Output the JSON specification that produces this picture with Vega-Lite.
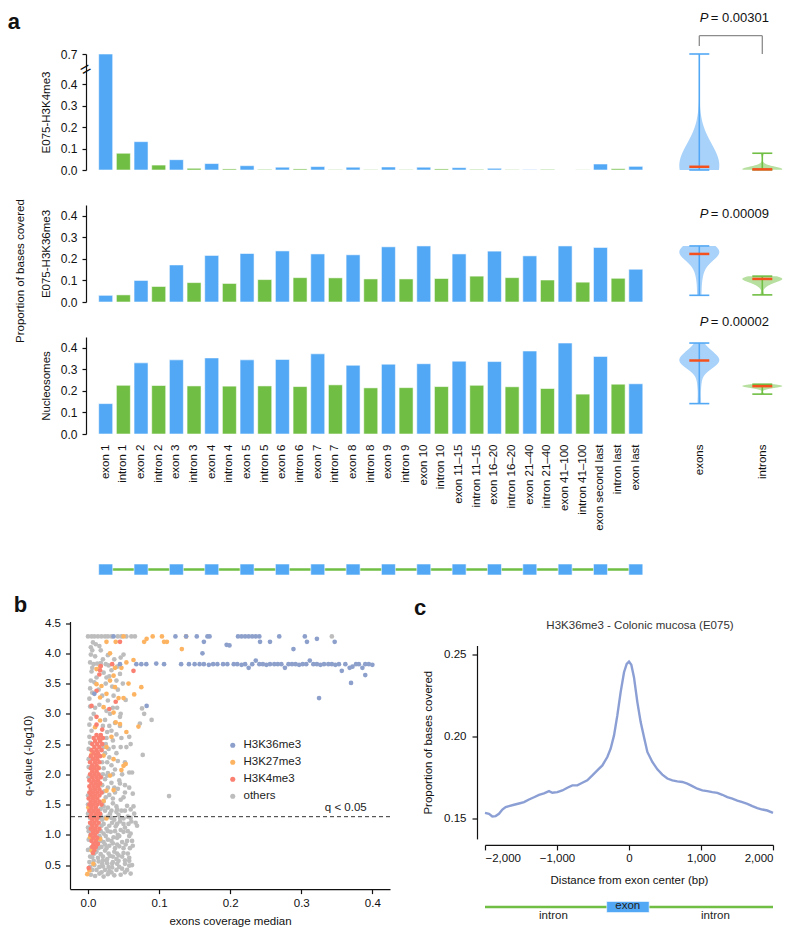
{
  "$schema": "https://vega.github.io/schema/vega-lite/v6.json",
  "background": "white",
  "padding": {"left": 7, "top": 10, "right": 0, "bottom": 0},
  "resolve": {"scale": {"color": "independent", "opacity": "independent"}},
  "datasets": {
    "bars": [
      {"lab": "exon 1", "type": "exon", "k4": 0.7, "k36": 0.031, "nuc": 0.141},
      {"lab": "intron 1", "type": "intron", "k4": 0.078, "k36": 0.033, "nuc": 0.226},
      {"lab": "exon 2", "type": "exon", "k4": 0.132, "k36": 0.1, "nuc": 0.33},
      {"lab": "intron 2", "type": "intron", "k4": 0.023, "k36": 0.072, "nuc": 0.225},
      {"lab": "exon 3", "type": "exon", "k4": 0.048, "k36": 0.172, "nuc": 0.344},
      {"lab": "intron 3", "type": "intron", "k4": 0.008, "k36": 0.09, "nuc": 0.223},
      {"lab": "exon 4", "type": "exon", "k4": 0.03, "k36": 0.216, "nuc": 0.353},
      {"lab": "intron 4", "type": "intron", "k4": 0.005, "k36": 0.086, "nuc": 0.222},
      {"lab": "exon 5", "type": "exon", "k4": 0.02, "k36": 0.225, "nuc": 0.344},
      {"lab": "intron 5", "type": "intron", "k4": 0.003, "k36": 0.104, "nuc": 0.223},
      {"lab": "exon 6", "type": "exon", "k4": 0.013, "k36": 0.237, "nuc": 0.346},
      {"lab": "intron 6", "type": "intron", "k4": 0.005, "k36": 0.113, "nuc": 0.22},
      {"lab": "exon 7", "type": "exon", "k4": 0.016, "k36": 0.223, "nuc": 0.372},
      {"lab": "intron 7", "type": "intron", "k4": 0.002, "k36": 0.112, "nuc": 0.228},
      {"lab": "exon 8", "type": "exon", "k4": 0.013, "k36": 0.219, "nuc": 0.319},
      {"lab": "intron 8", "type": "intron", "k4": 0.002, "k36": 0.107, "nuc": 0.214},
      {"lab": "exon 9", "type": "exon", "k4": 0.014, "k36": 0.256, "nuc": 0.324},
      {"lab": "intron 9", "type": "intron", "k4": 0.002, "k36": 0.107, "nuc": 0.215},
      {"lab": "exon 10", "type": "exon", "k4": 0.013, "k36": 0.26, "nuc": 0.326},
      {"lab": "intron 10", "type": "intron", "k4": 0.005, "k36": 0.109, "nuc": 0.22},
      {"lab": "exon 11–15", "type": "exon", "k4": 0.011, "k36": 0.223, "nuc": 0.338},
      {"lab": "intron 11–15", "type": "intron", "k4": 0.003, "k36": 0.12, "nuc": 0.226},
      {"lab": "exon 16–20", "type": "exon", "k4": 0.008, "k36": 0.236, "nuc": 0.336},
      {"lab": "intron 16–20", "type": "intron", "k4": 0.002, "k36": 0.113, "nuc": 0.219},
      {"lab": "exon 21–40", "type": "exon", "k4": 0.002, "k36": 0.214, "nuc": 0.385},
      {"lab": "intron 21–40", "type": "intron", "k4": 0.003, "k36": 0.102, "nuc": 0.211},
      {"lab": "exon 41–100", "type": "exon", "k4": 0.0, "k36": 0.26, "nuc": 0.422},
      {"lab": "intron 41–100", "type": "intron", "k4": 0.001, "k36": 0.092, "nuc": 0.185},
      {"lab": "exon second last", "type": "exon", "k4": 0.028, "k36": 0.253, "nuc": 0.36},
      {"lab": "intron last", "type": "intron", "k4": 0.006, "k36": 0.11, "nuc": 0.231},
      {"lab": "exon last", "type": "exon", "k4": 0.017, "k36": 0.152, "nuc": 0.233}
    ],
    "others": [
      {"x":0.0,"q":4.28},{"x":0.005,"q":4.28},{"x":0.009,"q":4.28},{"x":0.014,"q":4.28},{"x":0.019,"q":4.28},{"x":0.024,"q":4.28},{"x":0.028,"q":4.28},{"x":0.033,"q":4.28},{"x":0.042,"q":4.28},{"x":0.047,"q":4.28},{"x":0.054,"q":4.28},{"x":0.061,"q":4.28},{"x":0.066,"q":4.28},{"x":0.343,"q":4.28},
      {"x":0.007,"q":4.18},{"x":0.011,"q":4.15},{"x":0.016,"q":4.12},{"x":0.004,"q":4.1},
      {"x":0.004,"q":3.98},{"x":0.01,"q":3.95},{"x":0.021,"q":3.9},{"x":0.028,"q":3.97},{"x":0.046,"q":3.93},{"x":0.05,"q":3.98},
      {"x":0.003,"q":3.85},{"x":0.008,"q":3.82},{"x":0.013,"q":3.83},{"x":0.018,"q":3.84},{"x":0.025,"q":3.82},{"x":0.029,"q":3.8},{"x":0.041,"q":3.78},{"x":0.006,"q":3.76},
      {"x":0.005,"q":3.7},{"x":0.022,"q":3.68},{"x":0.03,"q":3.62},{"x":0.045,"q":3.66},
      {"x":0.004,"q":3.55},{"x":0.009,"q":3.52},{"x":0.025,"q":3.5},{"x":0.034,"q":3.45},{"x":0.003,"q":3.42},{"x":0.049,"q":3.5},
      {"x":0.006,"q":3.35},{"x":0.02,"q":3.3},{"x":0.028,"q":3.22},{"x":0.053,"q":3.23},{"x":0.002,"q":3.25},
      {"x":0.003,"q":3.12},{"x":0.016,"q":3.15},{"x":0.026,"q":3.05},{"x":0.035,"q":3.1},{"x":0.076,"q":3.09},{"x":0.079,"q":3.0},{"x":0.046,"q":3.0},{"x":0.008,"q":3.0},
      {"x":0.004,"q":2.92},{"x":0.024,"q":2.9},{"x":0.045,"q":2.95},{"x":0.0895,"q":2.9},{"x":0.002,"q":2.82},{"x":0.03,"q":2.8},{"x":0.073,"q":2.84},
      {"x":0.005,"q":2.72},{"x":0.027,"q":2.7},{"x":0.04,"q":2.66},{"x":0.058,"q":2.62},{"x":0.002,"q":2.62},
      {"x":0.003,"q":2.52},{"x":0.025,"q":2.5},{"x":0.035,"q":2.56},{"x":0.046,"q":2.45},{"x":0.001,"q":2.42},{"x":0.06,"q":2.5},
      {"x":0.024,"q":2.35},{"x":0.03,"q":2.28},{"x":0.001,"q":2.25},{"x":0.077,"q":2.32},{"x":0.042,"q":2.22},
      {"x":0.001,"q":2.12},{"x":0.022,"q":2.1},{"x":0.028,"q":2.02},{"x":0.038,"q":2.08},{"x":0.058,"q":2.03},{"x":0.062,"q":2.03},
      {"x":0.001,"q":1.95},{"x":0.024,"q":1.92},{"x":0.033,"q":1.86},{"x":0.044,"q":1.9},{"x":0.052,"q":1.82},{"x":0.02,"q":1.82},
      {"x":0.023,"q":1.72},{"x":0.03,"q":1.66},{"x":0.042,"q":1.76},{"x":0.05,"q":1.62},{"x":0.063,"q":1.68},{"x":0.114,"q":1.64},{"x":0.0,"q":1.65},
      {"x":0.022,"q":1.55},{"x":0.028,"q":1.45},{"x":0.035,"q":1.52},{"x":0.046,"q":1.58},{"x":0.055,"q":1.48},{"x":0.06,"q":1.42},{"x":0.041,"q":1.42},{"x":0.0,"q":1.5},{"x":0.018,"q":1.43},
      {"x":0.0,"q":1.35},{"x":0.018,"q":1.32},{"x":0.024,"q":1.28},{"x":0.031,"q":1.35},{"x":0.037,"q":1.25},{"x":0.043,"q":1.33},{"x":0.05,"q":1.27},{"x":0.056,"q":1.3},{"x":0.061,"q":1.22},{"x":0.067,"q":1.2},{"x":0.034,"q":1.2},{"x":0.045,"q":1.22},
      {"x":0.0,"q":1.12},{"x":0.019,"q":1.15},{"x":0.026,"q":1.1},{"x":0.032,"q":1.05},{"x":0.039,"q":1.14},{"x":0.046,"q":1.08},{"x":0.052,"q":1.12},{"x":0.06,"q":1.02},{"x":0.022,"q":1.02},{"x":0.042,"q":1.0},{"x":0.069,"q":1.15},
      {"x":0.001,"q":0.92},{"x":0.017,"q":0.95},{"x":0.022,"q":0.88},{"x":0.028,"q":0.92},{"x":0.035,"q":0.86},{"x":0.041,"q":0.95},{"x":0.048,"q":0.88},{"x":0.055,"q":0.9},{"x":0.063,"q":0.82},{"x":0.03,"q":0.82},{"x":0.019,"q":0.8},{"x":0.044,"q":0.81},
      {"x":0.0,"q":0.75},{"x":0.012,"q":0.72},{"x":0.018,"q":0.68},{"x":0.024,"q":0.74},{"x":0.031,"q":0.65},{"x":0.037,"q":0.72},{"x":0.043,"q":0.66},{"x":0.05,"q":0.7},{"x":0.058,"q":0.62},{"x":0.006,"q":0.63},{"x":0.027,"q":0.6},{"x":0.04,"q":0.6},
      {"x":0.002,"q":0.55},{"x":0.009,"q":0.5},{"x":0.015,"q":0.56},{"x":0.021,"q":0.48},{"x":0.027,"q":0.53},{"x":0.034,"q":0.46},{"x":0.041,"q":0.52},{"x":0.048,"q":0.44},{"x":0.058,"q":0.49},{"x":0.062,"q":0.5},{"x":0.012,"q":0.42},{"x":0.03,"q":0.4},
      {"x":0.004,"q":0.34},{"x":0.01,"q":0.32},{"x":0.016,"q":0.36},{"x":0.022,"q":0.31},{"x":0.028,"q":0.35},{"x":0.037,"q":0.33},{"x":0.046,"q":0.34},{"x":0.06,"q":0.36},
      {"x":0.014,"q":0.62},{"x":0.021,"q":0.58},{"x":0.035,"q":0.55},{"x":0.052,"q":0.58},{"x":0.008,"q":0.84},{"x":0.013,"q":0.88},{"x":0.025,"q":0.98},{"x":0.036,"q":0.96},{"x":0.05,"q":1.05},{"x":0.03,"q":1.15},{"x":0.057,"q":1.18},{"x":0.02,"q":1.25},{"x":0.028,"q":1.3},{"x":0.04,"q":1.38},{"x":0.052,"q":1.4},{"x":0.065,"q":1.35},{"x":0.035,"q":1.6},{"x":0.025,"q":1.62},{"x":0.038,"q":1.7},{"x":0.045,"q":1.85},{"x":0.027,"q":1.98},{"x":0.033,"q":2.15},{"x":0.04,"q":2.35},{"x":0.029,"q":2.42},{"x":0.033,"q":2.72},{"x":0.038,"q":2.85},{"x":0.031,"q":3.0},{"x":0.036,"q":3.3},{"x":0.04,"q":3.55},{"x":0.033,"q":3.72},{"x":0.037,"q":3.9},
      {"x":0.019,"q":0.38},{"x":0.033,"q":0.38},{"x":0.052,"q":0.38},{"x":0.006,"q":0.42},{"x":0.024,"q":0.42},{"x":0.04,"q":0.42},{"x":0.055,"q":0.42},{"x":0.003,"q":0.47},{"x":0.016,"q":0.47},{"x":0.029,"q":0.47},{"x":0.044,"q":0.47},
      {"x":0.02,"q":0.52},{"x":0.034,"q":0.52},{"x":0.052,"q":0.52},{"x":0.008,"q":0.57},{"x":0.026,"q":0.57},{"x":0.043,"q":0.57},{"x":0.058,"q":0.57},{"x":0.003,"q":0.64},{"x":0.021,"q":0.64},{"x":0.035,"q":0.64},{"x":0.048,"q":0.64},
      {"x":0.009,"q":0.69},{"x":0.029,"q":0.69},{"x":0.041,"q":0.69},{"x":0.056,"q":0.69},{"x":0.004,"q":0.78},{"x":0.015,"q":0.78},{"x":0.026,"q":0.78},{"x":0.038,"q":0.78},{"x":0.05,"q":0.78},{"x":0.059,"q":0.78},
      {"x":0.024,"q":0.84},{"x":0.041,"q":0.84},{"x":0.053,"q":0.84},{"x":0.018,"q":0.9},{"x":0.033,"q":0.9},{"x":0.062,"q":0.9},{"x":0.003,"q":0.98},{"x":0.016,"q":0.98},{"x":0.044,"q":0.98},{"x":0.058,"q":0.98},
      {"x":0.001,"q":1.06},{"x":0.018,"q":1.06},{"x":0.028,"q":1.06},{"x":0.038,"q":1.06},{"x":0.056,"q":1.06},{"x":0.004,"q":1.18},{"x":0.022,"q":1.18},{"x":0.041,"q":1.18},{"x":0.05,"q":1.18},
      {"x":0.003,"q":1.28},{"x":0.016,"q":1.28},{"x":0.033,"q":1.28},{"x":0.045,"q":1.28},{"x":0.06,"q":1.28},{"x":0.004,"q":1.4},{"x":0.024,"q":1.4},{"x":0.033,"q":1.4},{"x":0.047,"q":1.4},
      {"x":0.022,"q":1.47},{"x":0.04,"q":1.47},{"x":0.064,"q":1.47},{"x":0.02,"q":1.7},{"x":0.052,"q":1.7},{"x":0.028,"q":1.78},{"x":0.037,"q":1.78},{"x":0.058,"q":1.78},
      {"x":0.021,"q":2.0},{"x":0.035,"q":2.0},{"x":0.048,"q":2.0},{"x":0.02,"q":2.2},{"x":0.027,"q":2.2},{"x":0.052,"q":2.2},{"x":0.022,"q":2.45},{"x":0.036,"q":2.45},{"x":0.054,"q":2.45},
      {"x":0.026,"q":2.6},{"x":0.047,"q":2.6},{"x":0.021,"q":2.8},{"x":0.045,"q":2.8},{"x":0.01,"q":3.1},{"x":0.041,"q":3.1},{"x":0.015,"q":3.4},{"x":0.042,"q":3.4},{"x":0.012,"q":3.6},{"x":0.026,"q":3.6},{"x":0.006,"q":4.05},{"x":0.018,"q":4.05}
    ],
    "k27": [
      {"x":0.05,"q":4.28},{"x":0.079,"q":4.19},{"x":0.0825,"q":4.24},{"x":0.091,"q":4.28},{"x":0.104,"q":4.28},{"x":0.107,"q":4.19},{"x":0.111,"q":4.19},{"x":0.138,"q":4.28},{"x":0.132,"q":4.07},{"x":0.026,"q":4.19},{"x":0.039,"q":4.19},{"x":0.031,"q":4.0},
      {"x":0.064,"q":3.89},{"x":0.054,"q":3.85},{"x":0.038,"q":3.76},{"x":0.047,"q":3.76},{"x":0.017,"q":3.78},{"x":0.012,"q":3.74},{"x":0.036,"q":3.63},{"x":0.057,"q":3.5},{"x":0.012,"q":3.49},{"x":0.019,"q":3.46},{"x":0.075,"q":3.44},{"x":0.031,"q":3.55},
      {"x":0.065,"q":3.32},{"x":0.043,"q":3.26},{"x":0.05,"q":3.26},{"x":0.017,"q":3.27},{"x":0.026,"q":3.33},{"x":0.038,"q":3.44},{"x":0.022,"q":3.11},{"x":0.036,"q":3.02},{"x":0.039,"q":2.86},{"x":0.045,"q":2.83},{"x":0.071,"q":2.79},{"x":0.054,"q":2.7},
      {"x":0.017,"q":2.89},{"x":0.01,"q":2.78},{"x":0.033,"q":2.62},{"x":0.017,"q":2.56},{"x":0.026,"q":2.45},{"x":0.022,"q":2.31},{"x":0.036,"q":2.25},{"x":0.05,"q":2.14},{"x":0.053,"q":2.17},{"x":0.047,"q":2.07},{"x":0.005,"q":2.33},{"x":0.015,"q":2.11},
      {"x":0.031,"q":1.98},{"x":0.017,"q":1.84},{"x":0.026,"q":1.73},{"x":0.0075,"q":1.62},{"x":0.022,"q":1.56},{"x":0.0005,"q":1.45},{"x":0.012,"q":1.34},{"x":0.026,"q":1.27},{"x":0.01,"q":1.1},{"x":0.003,"q":0.96},{"x":0.005,"q":0.74},{"x":0.0075,"q":0.52},
      {"x":0.002,"q":0.41},{"x":-0.001,"q":0.35},{"x":0.017,"q":0.93},{"x":0.036,"q":1.74}
    ],
    "k4": [
      {"x":0.045,"q":4.19},{"x":0.064,"q":3.71},{"x":0.034,"q":3.82},{"x":0.017,"q":3.72},{"x":0.018,"q":3.79},{"x":0.016,"q":3.65},{"x":0.012,"q":3.38},{"x":0.005,"q":3.13},{"x":0.012,"q":2.95},{"x":0.039,"q":3.2},{"x":0.03,"q":3.08},{"x":0.02,"q":2.74},{"x":0.012,"q":2.82},
      {"x":0.012,"q":2.65},{"x":0.018,"q":2.65},{"x":0.008,"q":2.6},{"x":0.015,"q":2.6},{"x":0.021,"q":2.6},{"x":0.01,"q":2.55},{"x":0.017,"q":2.55},{"x":0.006,"q":2.5},{"x":0.013,"q":2.5},{"x":0.02,"q":2.5},
      {"x":0.009,"q":2.45},{"x":0.016,"q":2.45},{"x":0.005,"q":2.4},{"x":0.012,"q":2.4},{"x":0.019,"q":2.4},{"x":0.008,"q":2.35},{"x":0.014,"q":2.35},{"x":0.004,"q":2.3},{"x":0.011,"q":2.3},{"x":0.017,"q":2.3},
      {"x":0.007,"q":2.25},{"x":0.013,"q":2.25},{"x":0.003,"q":2.2},{"x":0.01,"q":2.2},{"x":0.016,"q":2.2},{"x":0.006,"q":2.15},{"x":0.012,"q":2.15},{"x":0.004,"q":2.1},{"x":0.009,"q":2.1},{"x":0.015,"q":2.1},
      {"x":0.006,"q":2.05},{"x":0.012,"q":2.05},{"x":0.003,"q":2.0},{"x":0.009,"q":2.0},{"x":0.015,"q":2.0},{"x":0.006,"q":1.95},{"x":0.012,"q":1.95},{"x":0.018,"q":1.95},{"x":0.002,"q":1.9},{"x":0.008,"q":1.9},{"x":0.014,"q":1.9},
      {"x":0.005,"q":1.85},{"x":0.011,"q":1.85},{"x":0.017,"q":1.85},{"x":0.002,"q":1.8},{"x":0.008,"q":1.8},{"x":0.014,"q":1.8},{"x":0.004,"q":1.75},{"x":0.01,"q":1.75},{"x":0.016,"q":1.75},
      {"x":0.002,"q":1.7},{"x":0.007,"q":1.7},{"x":0.013,"q":1.7},{"x":0.019,"q":1.7},{"x":0.004,"q":1.65},{"x":0.01,"q":1.65},{"x":0.016,"q":1.65},{"x":0.001,"q":1.6},{"x":0.007,"q":1.6},{"x":0.013,"q":1.6},
      {"x":0.004,"q":1.55},{"x":0.01,"q":1.55},{"x":0.016,"q":1.55},{"x":0.002,"q":1.5},{"x":0.007,"q":1.5},{"x":0.013,"q":1.5},{"x":0.019,"q":1.5},{"x":0.005,"q":1.45},{"x":0.011,"q":1.45},
      {"x":0.002,"q":1.4},{"x":0.008,"q":1.4},{"x":0.014,"q":1.4},{"x":0.005,"q":1.35},{"x":0.011,"q":1.35},{"x":0.017,"q":1.35},{"x":0.003,"q":1.3},{"x":0.009,"q":1.3},{"x":0.015,"q":1.3},
      {"x":0.006,"q":1.25},{"x":0.012,"q":1.25},{"x":0.003,"q":1.2},{"x":0.009,"q":1.2},{"x":0.015,"q":1.2},{"x":0.006,"q":1.15},{"x":0.012,"q":1.15},{"x":0.004,"q":1.1},{"x":0.01,"q":1.1},{"x":0.016,"q":1.1},
      {"x":0.007,"q":1.05},{"x":0.013,"q":1.05},{"x":0.004,"q":1.0},{"x":0.01,"q":1.0},{"x":0.007,"q":0.95},{"x":0.013,"q":0.95},{"x":0.005,"q":0.9},{"x":0.011,"q":0.9},{"x":0.008,"q":0.85},{"x":0.014,"q":0.85},
      {"x":0.006,"q":0.8},{"x":0.011,"q":0.8},{"x":0.009,"q":0.75},{"x":0.007,"q":0.7},{"x":0.001,"q":0.45}
    ],
    "k36": [
      {"x":0.036,"q":4.28},{"x":0.123,"q":4.28},{"x":0.138,"q":4.28},{"x":0.153,"q":4.28},{"x":0.168,"q":4.28},{"x":0.171,"q":4.28},{"x":0.211,"q":4.28},{"x":0.216,"q":4.28},{"x":0.221,"q":4.28},{"x":0.226,"q":4.28},{"x":0.231,"q":4.28},{"x":0.236,"q":4.28},{"x":0.241,"q":4.28},{"x":0.269,"q":4.28},{"x":0.305,"q":4.28},
      {"x":0.322,"q":4.24},{"x":0.163,"q":4.19},{"x":0.242,"q":4.19},{"x":0.256,"q":4.19},{"x":0.308,"q":4.19},{"x":0.347,"q":4.19},{"x":0.195,"q":4.14},{"x":0.199,"q":4.13},{"x":0.161,"q":4.0},{"x":0.289,"q":4.07},
      {"x":0.045,"q":3.82},{"x":0.068,"q":3.82},{"x":0.075,"q":3.82},{"x":0.082,"q":3.82},{"x":0.096,"q":3.83},{"x":0.107,"q":3.82},{"x":0.131,"q":3.82},{"x":0.142,"q":3.82},{"x":0.15,"q":3.82},{"x":0.157,"q":3.82},{"x":0.163,"q":3.82},{"x":0.17,"q":3.81},{"x":0.176,"q":3.82},{"x":0.182,"q":3.82},{"x":0.19,"q":3.82},{"x":0.196,"q":3.82},{"x":0.205,"q":3.82},{"x":0.21,"q":3.82},{"x":0.216,"q":3.81},{"x":0.221,"q":3.82},{"x":0.226,"q":3.76},{"x":0.231,"q":3.82},{"x":0.236,"q":3.88},{"x":0.241,"q":3.82},{"x":0.246,"q":3.82},{"x":0.251,"q":3.81},{"x":0.256,"q":3.82},{"x":0.262,"q":3.82},{"x":0.267,"q":3.82},{"x":0.272,"q":3.82},{"x":0.277,"q":3.76},{"x":0.282,"q":3.82},{"x":0.287,"q":3.82},{"x":0.292,"q":3.82},{"x":0.297,"q":3.81},{"x":0.302,"q":3.82},{"x":0.307,"q":3.82},{"x":0.312,"q":3.88},{"x":0.317,"q":3.82},{"x":0.322,"q":3.82},{"x":0.327,"q":3.81},{"x":0.332,"q":3.82},{"x":0.338,"q":3.82},{"x":0.343,"q":3.82},{"x":0.348,"q":3.81},{"x":0.353,"q":3.82},{"x":0.357,"q":3.71},{"x":0.362,"q":3.82},{"x":0.368,"q":3.76},{"x":0.372,"q":3.78},{"x":0.377,"q":3.82},{"x":0.381,"q":3.82},{"x":0.386,"q":3.76},{"x":0.39,"q":3.82},{"x":0.395,"q":3.82},{"x":0.4,"q":3.81},
      {"x":0.37,"q":3.51},{"x":0.39,"q":3.64},{"x":0.325,"q":3.26},{"x":0.009,"q":3.33},{"x":0.0825,"q":3.13}
    ],
    "profile": [
      {"d":-2000,"p":0.1537},{"d":-1944,"p":0.1531},{"d":-1898,"p":0.1515},{"d":-1852,"p":0.1517},{"d":-1806,"p":0.1531},{"d":-1759,"p":0.1557},{"d":-1713,"p":0.1572},{"d":-1667,"p":0.1578},{"d":-1597,"p":0.1586},{"d":-1528,"p":0.1594},{"d":-1458,"p":0.1602},{"d":-1389,"p":0.1618},{"d":-1319,"p":0.1632},{"d":-1250,"p":0.1646},{"d":-1181,"p":0.1655},{"d":-1111,"p":0.1669},{"d":-1065,"p":0.1659},{"d":-995,"p":0.1663},{"d":-926,"p":0.1673},{"d":-856,"p":0.169},{"d":-787,"p":0.1704},{"d":-718,"p":0.1704},{"d":-648,"p":0.172},{"d":-579,"p":0.1735},{"d":-509,"p":0.1765},{"d":-440,"p":0.1796},{"d":-370,"p":0.1826},{"d":-301,"p":0.1877},{"d":-255,"p":0.1928},{"d":-208,"p":0.2009},{"d":-162,"p":0.2131},{"d":-116,"p":0.2273},{"d":-69,"p":0.2394},{"d":-32,"p":0.2445},{"d":0,"p":0.2459},{"d":32,"p":0.2439},{"d":69,"p":0.2364},{"d":116,"p":0.2212},{"d":162,"p":0.209},{"d":208,"p":0.1999},{"d":255,"p":0.1908},{"d":324,"p":0.1847},{"d":394,"p":0.1802},{"d":463,"p":0.177},{"d":532,"p":0.1746},{"d":602,"p":0.1735},{"d":671,"p":0.1729},{"d":741,"p":0.1725},{"d":810,"p":0.1715},{"d":880,"p":0.17},{"d":949,"p":0.1684},{"d":1019,"p":0.1674},{"d":1088,"p":0.1669},{"d":1157,"p":0.1663},{"d":1227,"p":0.1659},{"d":1296,"p":0.1647},{"d":1366,"p":0.1633},{"d":1435,"p":0.1623},{"d":1505,"p":0.1612},{"d":1574,"p":0.1602},{"d":1644,"p":0.1592},{"d":1713,"p":0.1578},{"d":1782,"p":0.1566},{"d":1852,"p":0.1557},{"d":1921,"p":0.1551},{"d":2000,"p":0.1537}
    ]
  },
  "vconcat": [
    {
      "title": {"text": "a", "anchor": "start", "frame": "bounds", "fontSize": 22, "fontWeight": "bold", "offset": 0, "dx": -7, "dy": 22},
      "spacing": 32,
      "vconcat": [
        {
          "title": {"text": "Proportion of bases covered", "orient": "left", "anchor": "middle", "frame": "bounds", "fontSize": 11.5, "fontWeight": "normal", "offset": 14},
          "spacing": 35,
          "bounds": "flush",
          "vconcat": [
            {
              "width": 716, "height": 116,
              "data": {"name": "bars"},
              "resolve": {"scale": {"x": "independent", "y": "independent"}},
              "layer": [
                {
                  "mark": {"type": "bar", "stroke": "#ffffff", "strokeOpacity": 0.55, "strokeWidth": 1},
                  "encoding": {
                    "x": {"field": "lab", "type": "nominal", "sort": null, "axis": null, "scale": {"type": "band", "domain": ["exon 1","intron 1","exon 2","intron 2","exon 3","intron 3","exon 4","intron 4","exon 5","intron 5","exon 6","intron 6","exon 7","intron 7","exon 8","intron 8","exon 9","intron 9","exon 10","intron 10","exon 11–15","intron 11–15","exon 16–20","intron 16–20","exon 21–40","intron 21–40","exon 41–100","intron 41–100","exon second last","intron last","exon last"], "range": [28.7, 572.8], "paddingInner": 0.208, "paddingOuter": 0, "round": false}},
                    "y": {"field": "k4", "type": "quantitative", "scale": {"domain": [0, 0.54], "clamp": true, "nice": false, "zero": true}, "axis": {"values": [0, 0.1, 0.2, 0.3, 0.4, 0.54], "labelExpr": "datum.value > 0.5 ? '0.7' : format(datum.value, '.1f')", "title": "E075-H3K4me3", "offset": -16, "tickSize": 4, "labelPadding": 5, "titlePadding": 9, "labelFontSize": 12}},
                    "color": {"field": "type", "type": "nominal", "scale": {"domain": ["exon", "intron"], "range": ["#53A8F5", "#70BE43"]}, "legend": null}
                  }
                },
                {
                  "data": {"values": [{}]},
                  "mark": {"type": "text", "text": "=", "angle": -30, "fontSize": 18, "dx": -17.06, "dy": -9.85, "align": "center", "baseline": "middle", "color": "#111"},
                  "encoding": {
                    "x": {"datum": "exon 1", "type": "nominal", "axis": null, "scale": {"type": "band", "domain": ["exon 1","intron 1","exon 2","intron 2","exon 3","intron 3","exon 4","intron 4","exon 5","intron 5","exon 6","intron 6","exon 7","intron 7","exon 8","intron 8","exon 9","intron 9","exon 10","intron 10","exon 11–15","intron 11–15","exon 16–20","intron 16–20","exon 21–40","intron 21–40","exon 41–100","intron 41–100","exon second last","intron last","exon last"], "range": [28.7, 572.8], "paddingInner": 0.208, "paddingOuter": 0, "round": false}},
                    "y": {"datum": 0.465, "type": "quantitative", "axis": null, "scale": {"domain": [0, 0.54], "clamp": true, "nice": false, "zero": true}}
                  }
                },
                {
                  "transform": [{"filter": "datum.type === 'exon'"}, {"density": "k4", "bandwidth": 0.0986, "steps": 120, "as": ["v", "dens"]}],
                  "mark": {"type": "area", "orient": "horizontal", "color": "#A9D2FA"},
                  "encoding": {
                    "y": {"field": "v", "type": "quantitative", "axis": null, "scale": {"domain": [0, 0.54], "clamp": true, "nice": false, "zero": true}},
                    "x": {"field": "dens", "type": "quantitative", "stack": "center", "axis": null, "scale": {"range": [609.3, 649.3], "nice": false, "zero": true}}
                  }
                },
                {
                  "transform": [{"filter": "datum.type === 'intron'"}, {"density": "k4", "bandwidth": 0.0114, "steps": 120, "as": ["v", "dens"]}],
                  "mark": {"type": "area", "orient": "horizontal", "color": "#B7E0A0"},
                  "encoding": {
                    "y": {"field": "v", "type": "quantitative", "axis": null, "scale": {"domain": [0, 0.54], "clamp": true, "nice": false, "zero": true}},
                    "x": {"field": "dens", "type": "quantitative", "stack": "center", "axis": null, "scale": {"range": [672.3, 712.3], "nice": false, "zero": true}}
                  }
                },
                {
                  "layer": [
                    {
                      "mark": {"type": "rule", "strokeWidth": 1.6},
                      "encoding": {
                        "x": {"field": "type", "type": "nominal", "axis": null, "scale": {"type": "point", "domain": ["exon", "intron"], "range": [629.3, 692.3], "padding": 0}},
                        "y": {"aggregate": "min", "field": "k4", "type": "quantitative", "axis": null, "scale": {"domain": [0, 0.54], "clamp": true, "nice": false, "zero": true}},
                        "y2": {"aggregate": "max", "field": "k4"},
                        "color": {"field": "type", "type": "nominal", "legend": null}
                      }
                    },
                    {
                      "mark": {"type": "tick", "orient": "horizontal", "size": 20, "thickness": 1.6},
                      "encoding": {
                        "x": {"field": "type", "type": "nominal", "axis": null, "scale": {"type": "point", "domain": ["exon", "intron"], "range": [629.3, 692.3], "padding": 0}},
                        "y": {"aggregate": "min", "field": "k4", "type": "quantitative", "axis": null, "scale": {"domain": [0, 0.54], "clamp": true, "nice": false, "zero": true}},
                        "color": {"field": "type", "type": "nominal", "legend": null}
                      }
                    },
                    {
                      "mark": {"type": "tick", "orient": "horizontal", "size": 20, "thickness": 1.6},
                      "encoding": {
                        "x": {"field": "type", "type": "nominal", "axis": null, "scale": {"type": "point", "domain": ["exon", "intron"], "range": [629.3, 692.3], "padding": 0}},
                        "y": {"aggregate": "max", "field": "k4", "type": "quantitative", "axis": null, "scale": {"domain": [0, 0.54], "clamp": true, "nice": false, "zero": true}},
                        "color": {"field": "type", "type": "nominal", "legend": null}
                      }
                    },
                    {
                      "mark": {"type": "tick", "orient": "horizontal", "size": 20, "thickness": 2.5, "color": "#F4511E"},
                      "encoding": {
                        "x": {"field": "type", "type": "nominal", "axis": null, "scale": {"type": "point", "domain": ["exon", "intron"], "range": [629.3, 692.3], "padding": 0}},
                        "y": {"aggregate": "median", "field": "k4", "type": "quantitative", "axis": null, "scale": {"domain": [0, 0.54], "clamp": true, "nice": false, "zero": true}}
                      }
                    }
                  ]
                },
                {
                  "data": {"values": [{"p": "= 0.00301"}]},
                  "layer": [
                    {
                      "mark": {"type": "rule", "color": "#8C8C8C", "strokeWidth": 1.3},
                      "encoding": {
                        "x": {"datum": "exon", "type": "nominal", "axis": null, "scale": {"type": "point", "domain": ["exon", "intron"], "range": [629.3, 692.3], "padding": 0}},
                        "x2": {"datum": "intron"},
                        "y": {"datum": 1.158, "type": "quantitative", "axis": null, "scale": {"domain": [0, 1], "nice": false, "zero": false}}
                      }
                    },
                    {
                      "mark": {"type": "rule", "color": "#8C8C8C", "strokeWidth": 1.3},
                      "encoding": {
                        "x": {"datum": "exon", "type": "nominal", "axis": null},
                        "y": {"datum": 1.069, "type": "quantitative", "axis": null},
                        "y2": {"datum": 1.158}
                      }
                    },
                    {
                      "mark": {"type": "rule", "color": "#8C8C8C", "strokeWidth": 1.3},
                      "encoding": {
                        "x": {"datum": "intron", "type": "nominal", "axis": null},
                        "y": {"datum": 1.0, "type": "quantitative", "axis": null},
                        "y2": {"datum": 1.158}
                      }
                    },
                    {
                      "mark": {"type": "text", "text": "P", "fontStyle": "italic", "align": "right", "baseline": "alphabetic", "dx": 9, "fontSize": 13, "color": "#111"},
                      "encoding": {"x": {"datum": "exon", "type": "nominal", "axis": null}, "y": {"datum": 1.278, "type": "quantitative", "axis": null}}
                    },
                    {
                      "mark": {"type": "text", "align": "left", "baseline": "alphabetic", "dx": 11.4, "fontSize": 13, "color": "#111"},
                      "encoding": {"x": {"datum": "exon", "type": "nominal", "axis": null}, "y": {"datum": 1.278, "type": "quantitative", "axis": null}, "text": {"field": "p"}}
                    }
                  ]
                }
              ]
            },
            {
              "width": 716, "height": 97,
              "data": {"name": "bars"},
              "resolve": {"scale": {"x": "independent", "y": "independent"}},
              "layer": [
                {
                  "mark": {"type": "bar", "stroke": "#ffffff", "strokeOpacity": 0.55, "strokeWidth": 1},
                  "encoding": {
                    "x": {"field": "lab", "type": "nominal", "sort": null, "axis": null, "scale": {"type": "band", "domain": ["exon 1","intron 1","exon 2","intron 2","exon 3","intron 3","exon 4","intron 4","exon 5","intron 5","exon 6","intron 6","exon 7","intron 7","exon 8","intron 8","exon 9","intron 9","exon 10","intron 10","exon 11–15","intron 11–15","exon 16–20","intron 16–20","exon 21–40","intron 21–40","exon 41–100","intron 41–100","exon second last","intron last","exon last"], "range": [28.7, 572.8], "paddingInner": 0.208, "paddingOuter": 0, "round": false}},
                    "y": {"field": "k36", "type": "quantitative", "scale": {"domain": [0, 0.45], "nice": false, "zero": true}, "axis": {"values": [0, 0.1, 0.2, 0.3, 0.4], "format": ".1f", "title": "E075-H3K36me3", "offset": -16, "tickSize": 4, "labelPadding": 5, "titlePadding": 9, "labelFontSize": 12}},
                    "color": {"field": "type", "type": "nominal", "scale": {"domain": ["exon", "intron"], "range": ["#53A8F5", "#70BE43"]}, "legend": null}
                  }
                },
                {
                  "transform": [{"filter": "datum.type === 'exon'"}, {"density": "k36", "bandwidth": 0.0362, "steps": 120, "as": ["v", "dens"]}],
                  "mark": {"type": "area", "orient": "horizontal", "color": "#A9D2FA"},
                  "encoding": {
                    "y": {"field": "v", "type": "quantitative", "axis": null, "scale": {"domain": [0, 0.45], "nice": false, "zero": true}},
                    "x": {"field": "dens", "type": "quantitative", "stack": "center", "axis": null, "scale": {"range": [609.3, 649.3], "nice": false, "zero": true}}
                  }
                },
                {
                  "transform": [{"filter": "datum.type === 'intron'"}, {"density": "k36", "bandwidth": 0.01278, "steps": 120, "as": ["v", "dens"]}],
                  "mark": {"type": "area", "orient": "horizontal", "color": "#B7E0A0"},
                  "encoding": {
                    "y": {"field": "v", "type": "quantitative", "axis": null, "scale": {"domain": [0, 0.45], "nice": false, "zero": true}},
                    "x": {"field": "dens", "type": "quantitative", "stack": "center", "axis": null, "scale": {"range": [672.3, 712.3], "nice": false, "zero": true}}
                  }
                },
                {
                  "layer": [
                    {
                      "mark": {"type": "rule", "strokeWidth": 1.6},
                      "encoding": {
                        "x": {"field": "type", "type": "nominal", "axis": null, "scale": {"type": "point", "domain": ["exon", "intron"], "range": [629.3, 692.3], "padding": 0}},
                        "y": {"aggregate": "min", "field": "k36", "type": "quantitative", "axis": null, "scale": {"domain": [0, 0.45], "nice": false, "zero": true}},
                        "y2": {"aggregate": "max", "field": "k36"},
                        "color": {"field": "type", "type": "nominal", "legend": null}
                      }
                    },
                    {
                      "mark": {"type": "tick", "orient": "horizontal", "size": 20, "thickness": 1.6},
                      "encoding": {
                        "x": {"field": "type", "type": "nominal", "axis": null, "scale": {"type": "point", "domain": ["exon", "intron"], "range": [629.3, 692.3], "padding": 0}},
                        "y": {"aggregate": "min", "field": "k36", "type": "quantitative", "axis": null, "scale": {"domain": [0, 0.45], "nice": false, "zero": true}},
                        "color": {"field": "type", "type": "nominal", "legend": null}
                      }
                    },
                    {
                      "mark": {"type": "tick", "orient": "horizontal", "size": 20, "thickness": 1.6},
                      "encoding": {
                        "x": {"field": "type", "type": "nominal", "axis": null, "scale": {"type": "point", "domain": ["exon", "intron"], "range": [629.3, 692.3], "padding": 0}},
                        "y": {"aggregate": "max", "field": "k36", "type": "quantitative", "axis": null, "scale": {"domain": [0, 0.45], "nice": false, "zero": true}},
                        "color": {"field": "type", "type": "nominal", "legend": null}
                      }
                    },
                    {
                      "mark": {"type": "tick", "orient": "horizontal", "size": 20, "thickness": 2.5, "color": "#F4511E"},
                      "encoding": {
                        "x": {"field": "type", "type": "nominal", "axis": null, "scale": {"type": "point", "domain": ["exon", "intron"], "range": [629.3, 692.3], "padding": 0}},
                        "y": {"aggregate": "median", "field": "k36", "type": "quantitative", "axis": null, "scale": {"domain": [0, 0.45], "nice": false, "zero": true}}
                      }
                    }
                  ]
                },
                {
                  "data": {"values": [{"p": "= 0.00009"}]},
                  "layer": [
                    {
                      "mark": {"type": "text", "text": "P", "fontStyle": "italic", "align": "right", "baseline": "alphabetic", "dx": 9, "fontSize": 13, "color": "#111"},
                      "encoding": {
                        "x": {"datum": "exon", "type": "nominal", "axis": null, "scale": {"type": "point", "domain": ["exon", "intron"], "range": [629.3, 692.3], "padding": 0}},
                        "y": {"datum": 0.388, "type": "quantitative", "axis": null, "scale": {"domain": [0, 0.45], "nice": false, "zero": true}}
                      }
                    },
                    {
                      "mark": {"type": "text", "align": "left", "baseline": "alphabetic", "dx": 11.4, "fontSize": 13, "color": "#111"},
                      "encoding": {"x": {"datum": "exon", "type": "nominal", "axis": null}, "y": {"datum": 0.388, "type": "quantitative", "axis": null}, "text": {"field": "p"}}
                    }
                  ]
                }
              ]
            },
            {
              "width": 716, "height": 97,
              "data": {"name": "bars"},
              "resolve": {"scale": {"x": "independent", "y": "independent"}},
              "layer": [
                {
                  "mark": {"type": "bar", "stroke": "#ffffff", "strokeOpacity": 0.55, "strokeWidth": 1},
                  "encoding": {
                    "x": {"field": "lab", "type": "nominal", "sort": null, "axis": {"orient": "bottom", "labelAngle": 270, "ticks": false, "tickSize": 0, "domain": false, "title": null, "labelPadding": 10, "labelFontSize": 11.5, "labelOverlap": false}, "scale": {"type": "band", "domain": ["exon 1","intron 1","exon 2","intron 2","exon 3","intron 3","exon 4","intron 4","exon 5","intron 5","exon 6","intron 6","exon 7","intron 7","exon 8","intron 8","exon 9","intron 9","exon 10","intron 10","exon 11–15","intron 11–15","exon 16–20","intron 16–20","exon 21–40","intron 21–40","exon 41–100","intron 41–100","exon second last","intron last","exon last"], "range": [28.7, 572.8], "paddingInner": 0.208, "paddingOuter": 0, "round": false}},
                    "y": {"field": "nuc", "type": "quantitative", "scale": {"domain": [0, 0.45], "nice": false, "zero": true}, "axis": {"values": [0, 0.1, 0.2, 0.3, 0.4], "format": ".1f", "title": "Nucleosomes", "offset": -16, "tickSize": 4, "labelPadding": 5, "titlePadding": 9, "labelFontSize": 12}},
                    "color": {"field": "type", "type": "nominal", "scale": {"domain": ["exon", "intron"], "range": ["#53A8F5", "#70BE43"]}, "legend": null}
                  }
                },
                {
                  "transform": [{"filter": "datum.type === 'exon'"}, {"density": "nuc", "bandwidth": 0.0366, "steps": 120, "as": ["v", "dens"]}],
                  "mark": {"type": "area", "orient": "horizontal", "color": "#A9D2FA"},
                  "encoding": {
                    "y": {"field": "v", "type": "quantitative", "axis": null, "scale": {"domain": [0, 0.45], "nice": false, "zero": true}},
                    "x": {"field": "dens", "type": "quantitative", "stack": "center", "axis": null, "scale": {"range": [609.3, 649.3], "nice": false, "zero": true}}
                  }
                },
                {
                  "transform": [{"filter": "datum.type === 'intron'"}, {"density": "nuc", "bandwidth": 0.00634, "steps": 120, "as": ["v", "dens"]}],
                  "mark": {"type": "area", "orient": "horizontal", "color": "#B7E0A0"},
                  "encoding": {
                    "y": {"field": "v", "type": "quantitative", "axis": null, "scale": {"domain": [0, 0.45], "nice": false, "zero": true}},
                    "x": {"field": "dens", "type": "quantitative", "stack": "center", "axis": null, "scale": {"range": [672.3, 712.3], "nice": false, "zero": true}}
                  }
                },
                {
                  "layer": [
                    {
                      "mark": {"type": "rule", "strokeWidth": 1.6},
                      "encoding": {
                        "x": {"field": "type", "type": "nominal", "axis": {"orient": "bottom", "labelAngle": 270, "ticks": false, "tickSize": 0, "domain": false, "title": null, "labelPadding": 10, "labelFontSize": 11.5, "labelOverlap": false, "labelExpr": "datum.value === 'exon' ? 'exons' : 'introns'"}, "scale": {"type": "point", "domain": ["exon", "intron"], "range": [629.3, 692.3], "padding": 0}},
                        "y": {"aggregate": "min", "field": "nuc", "type": "quantitative", "axis": null, "scale": {"domain": [0, 0.45], "nice": false, "zero": true}},
                        "y2": {"aggregate": "max", "field": "nuc"},
                        "color": {"field": "type", "type": "nominal", "legend": null}
                      }
                    },
                    {
                      "mark": {"type": "tick", "orient": "horizontal", "size": 20, "thickness": 1.6},
                      "encoding": {
                        "x": {"field": "type", "type": "nominal", "axis": {"orient": "bottom", "labelAngle": 270, "ticks": false, "tickSize": 0, "domain": false, "title": null, "labelPadding": 10, "labelFontSize": 11.5, "labelOverlap": false, "labelExpr": "datum.value === 'exon' ? 'exons' : 'introns'"}, "scale": {"type": "point", "domain": ["exon", "intron"], "range": [629.3, 692.3], "padding": 0}},
                        "y": {"aggregate": "min", "field": "nuc", "type": "quantitative", "axis": null, "scale": {"domain": [0, 0.45], "nice": false, "zero": true}},
                        "color": {"field": "type", "type": "nominal", "legend": null}
                      }
                    },
                    {
                      "mark": {"type": "tick", "orient": "horizontal", "size": 20, "thickness": 1.6},
                      "encoding": {
                        "x": {"field": "type", "type": "nominal", "axis": {"orient": "bottom", "labelAngle": 270, "ticks": false, "tickSize": 0, "domain": false, "title": null, "labelPadding": 10, "labelFontSize": 11.5, "labelOverlap": false, "labelExpr": "datum.value === 'exon' ? 'exons' : 'introns'"}, "scale": {"type": "point", "domain": ["exon", "intron"], "range": [629.3, 692.3], "padding": 0}},
                        "y": {"aggregate": "max", "field": "nuc", "type": "quantitative", "axis": null, "scale": {"domain": [0, 0.45], "nice": false, "zero": true}},
                        "color": {"field": "type", "type": "nominal", "legend": null}
                      }
                    },
                    {
                      "mark": {"type": "tick", "orient": "horizontal", "size": 20, "thickness": 2.5, "color": "#F4511E"},
                      "encoding": {
                        "x": {"field": "type", "type": "nominal", "axis": {"orient": "bottom", "labelAngle": 270, "ticks": false, "tickSize": 0, "domain": false, "title": null, "labelPadding": 10, "labelFontSize": 11.5, "labelOverlap": false, "labelExpr": "datum.value === 'exon' ? 'exons' : 'introns'"}, "scale": {"type": "point", "domain": ["exon", "intron"], "range": [629.3, 692.3], "padding": 0}},
                        "y": {"aggregate": "median", "field": "nuc", "type": "quantitative", "axis": null, "scale": {"domain": [0, 0.45], "nice": false, "zero": true}}
                      }
                    }
                  ]
                },
                {
                  "data": {"values": [{"p": "= 0.00002"}]},
                  "layer": [
                    {
                      "mark": {"type": "text", "text": "P", "fontStyle": "italic", "align": "right", "baseline": "alphabetic", "dx": 9, "fontSize": 13, "color": "#111"},
                      "encoding": {
                        "x": {"datum": "exon", "type": "nominal", "axis": null, "scale": {"type": "point", "domain": ["exon", "intron"], "range": [629.3, 692.3], "padding": 0}},
                        "y": {"datum": 0.499, "type": "quantitative", "axis": null, "scale": {"domain": [0, 0.45], "nice": false, "zero": true}}
                      }
                    },
                    {
                      "mark": {"type": "text", "align": "left", "baseline": "alphabetic", "dx": 11.4, "fontSize": 13, "color": "#111"},
                      "encoding": {"x": {"datum": "exon", "type": "nominal", "axis": null}, "y": {"datum": 0.499, "type": "quantitative", "axis": null}, "text": {"field": "p"}}
                    }
                  ]
                }
              ]
            }
          ]
        },
        {
          "width": 716, "height": 11,
          "layer": [
            {
              "data": {"values": [{}]},
              "mark": {"type": "rule", "color": "#70BE43", "strokeWidth": 2.5},
              "encoding": {
                "x": {"datum": "exon 1", "type": "nominal", "axis": null, "scale": {"type": "band", "domain": ["exon 1","intron 1","exon 2","intron 2","exon 3","intron 3","exon 4","intron 4","exon 5","intron 5","exon 6","intron 6","exon 7","intron 7","exon 8","intron 8","exon 9","intron 9","exon 10","intron 10","exon 11–15","intron 11–15","exon 16–20","intron 16–20","exon 21–40","intron 21–40","exon 41–100","intron 41–100","exon second last","intron last","exon last"], "range": [28.7, 572.8], "paddingInner": 0.208, "paddingOuter": 0, "round": false}},
                "x2": {"datum": "exon last"},
                "y": {"datum": 0.5, "type": "quantitative", "axis": null, "scale": {"domain": [0, 1], "nice": false, "zero": false}}
              }
            },
            {
              "data": {"name": "bars"},
              "mark": {"type": "rect", "stroke": "#ffffff", "strokeOpacity": 0.55, "strokeWidth": 1, "color": "#53A8F5"},
              "encoding": {
                "x": {"field": "lab", "type": "nominal", "sort": null, "axis": null},
                "y": {"datum": 0, "type": "quantitative", "axis": null},
                "y2": {"datum": 1},
                "opacity": {"field": "type", "type": "nominal", "scale": {"domain": ["exon", "intron"], "range": [1, 0]}, "legend": null}
              }
            }
          ]
        }
      ]
    },
    {
      "spacing": 22,
      "hconcat": [
        {
          "width": 320, "height": 267.6,
          "title": {"text": "b", "anchor": "start", "frame": "bounds", "fontSize": 22, "fontWeight": "bold", "offset": 0, "dx": -8.7},
          "layer": [
            {
              "data": {"name": "others"},
              "mark": {"type": "circle", "size": 22, "opacity": 1},
              "encoding": {
                "x": {"field": "x", "type": "quantitative", "scale": {"domain": [-0.0253, 0.4248], "nice": false, "zero": false}, "axis": {"values": [0, 0.1, 0.2, 0.3, 0.4], "format": ".1f", "title": "exons coverage median", "tickSize": 4.5, "labelPadding": 4, "titlePadding": 6}},
                "y": {"field": "q", "type": "quantitative", "scale": {"domain": [0.103, 4.526], "nice": false, "zero": false}, "axis": {"values": [0.5, 1, 1.5, 2, 2.5, 3, 3.5, 4, 4.5], "format": ".1f", "title": "q-value (-log10)", "tickSize": 4.5, "labelPadding": 5, "titlePadding": 11}},
                "color": {"datum": "others", "type": "nominal", "scale": {"domain": ["H3K36me3", "H3K27me3", "H3K4me3", "others"], "range": ["#8DA0CB", "#FDB462", "#FA8072", "#BDBDBD"]}, "legend": {"orient": "none", "legendX": 157, "legendY": 118, "title": null, "symbolSize": 26, "symbolType": "circle", "labelFontSize": 11.5, "rowPadding": 4, "labelOffset": 5, "padding": 0, "labelColor": "#222"}}
              }
            },
            {
              "data": {"name": "k27"},
              "mark": {"type": "circle", "size": 22, "opacity": 1},
              "encoding": {
                "x": {"field": "x", "type": "quantitative", "scale": {"domain": [-0.0253, 0.4248], "nice": false, "zero": false}, "axis": {"values": [0, 0.1, 0.2, 0.3, 0.4], "format": ".1f", "title": "exons coverage median", "tickSize": 4.5, "labelPadding": 4, "titlePadding": 6}},
                "y": {"field": "q", "type": "quantitative", "scale": {"domain": [0.103, 4.526], "nice": false, "zero": false}, "axis": {"values": [0.5, 1, 1.5, 2, 2.5, 3, 3.5, 4, 4.5], "format": ".1f", "title": "q-value (-log10)", "tickSize": 4.5, "labelPadding": 5, "titlePadding": 11}},
                "color": {"datum": "H3K27me3", "type": "nominal"}
              }
            },
            {
              "data": {"name": "k4"},
              "mark": {"type": "circle", "size": 22, "opacity": 1},
              "encoding": {
                "x": {"field": "x", "type": "quantitative", "scale": {"domain": [-0.0253, 0.4248], "nice": false, "zero": false}, "axis": {"values": [0, 0.1, 0.2, 0.3, 0.4], "format": ".1f", "title": "exons coverage median", "tickSize": 4.5, "labelPadding": 4, "titlePadding": 6}},
                "y": {"field": "q", "type": "quantitative", "scale": {"domain": [0.103, 4.526], "nice": false, "zero": false}, "axis": {"values": [0.5, 1, 1.5, 2, 2.5, 3, 3.5, 4, 4.5], "format": ".1f", "title": "q-value (-log10)", "tickSize": 4.5, "labelPadding": 5, "titlePadding": 11}},
                "color": {"datum": "H3K4me3", "type": "nominal"}
              }
            },
            {
              "data": {"name": "k36"},
              "mark": {"type": "circle", "size": 22, "opacity": 1},
              "encoding": {
                "x": {"field": "x", "type": "quantitative", "scale": {"domain": [-0.0253, 0.4248], "nice": false, "zero": false}, "axis": {"values": [0, 0.1, 0.2, 0.3, 0.4], "format": ".1f", "title": "exons coverage median", "tickSize": 4.5, "labelPadding": 4, "titlePadding": 6}},
                "y": {"field": "q", "type": "quantitative", "scale": {"domain": [0.103, 4.526], "nice": false, "zero": false}, "axis": {"values": [0.5, 1, 1.5, 2, 2.5, 3, 3.5, 4, 4.5], "format": ".1f", "title": "q-value (-log10)", "tickSize": 4.5, "labelPadding": 5, "titlePadding": 11}},
                "color": {"datum": "H3K36me3", "type": "nominal"}
              }
            },
            {
              "data": {"values": [{}]},
              "mark": {"type": "rule", "strokeDash": [4, 3], "color": "#333333", "strokeWidth": 1},
              "encoding": {"y": {"datum": 1.3, "type": "quantitative", "scale": {"domain": [0.103, 4.526], "nice": false, "zero": false}, "axis": {"values": [0.5, 1, 1.5, 2, 2.5, 3, 3.5, 4, 4.5], "format": ".1f", "title": "q-value (-log10)", "tickSize": 4.5, "labelPadding": 5, "titlePadding": 11}}}
            },
            {
              "data": {"values": [{}]},
              "mark": {"type": "text", "text": "q < 0.05", "align": "right", "baseline": "alphabetic", "fontSize": 11.5, "color": "#222"},
              "encoding": {
                "x": {"datum": 0.392, "type": "quantitative", "scale": {"domain": [-0.0253, 0.4248], "nice": false, "zero": false}, "axis": {"values": [0, 0.1, 0.2, 0.3, 0.4], "format": ".1f", "title": "exons coverage median", "tickSize": 4.5, "labelPadding": 4, "titlePadding": 6}},
                "y": {"datum": 1.398, "type": "quantitative", "scale": {"domain": [0.103, 4.526], "nice": false, "zero": false}, "axis": {"values": [0.5, 1, 1.5, 2, 2.5, 3, 3.5, 4, 4.5], "format": ".1f", "title": "q-value (-log10)", "tickSize": 4.5, "labelPadding": 5, "titlePadding": 11}}
              }
            }
          ]
        },
        {
          "title": {"text": "c", "anchor": "start", "frame": "bounds", "fontSize": 22, "fontWeight": "bold", "offset": 0, "dx": -8.7},
          "spacing": 13,
          "vconcat": [
            {
              "width": 288, "height": 9.6,
              "data": {"values": [{}]},
              "mark": {"type": "text", "text": "H3K36me3 - Colonic mucosa (E075)", "fontSize": 11.5, "color": "#333", "dx": 11, "align": "center", "baseline": "middle"},
              "encoding": {}
            },
            {
              "width": 288, "height": 193.4,
              "data": {"name": "profile"},
              "mark": {"type": "line", "color": "#8B9FD4", "strokeWidth": 2.4},
              "encoding": {
                "x": {"field": "d", "type": "quantitative", "scale": {"domain": [-2000, 2000], "nice": false}, "axis": {"values": [-2000, -1000, 0, 1000, 2000], "format": ",.0f", "offset": 6, "title": "Distance from exon center (bp)", "tickSize": 5, "labelPadding": 3, "titlePadding": 10}},
                "y": {"field": "p", "type": "quantitative", "scale": {"domain": [0.1378, 0.2557], "nice": false, "zero": false}, "axis": {"values": [0.15, 0.2, 0.25], "format": ".2f", "offset": 8, "title": "Proportion of bases covered", "tickSize": 5, "labelPadding": 6, "titlePadding": 10}}
              }
            },
            {
              "width": 288, "height": 11,
              "data": {"values": [{}]},
              "layer": [
                {
                  "mark": {"type": "rule", "color": "#70BE43", "strokeWidth": 2.5},
                  "encoding": {
                    "x": {"datum": -2000, "type": "quantitative", "axis": null, "scale": {"domain": [-2000, 2000], "nice": false, "zero": false}},
                    "x2": {"datum": 2000},
                    "y": {"datum": 0.5, "type": "quantitative", "axis": null, "scale": {"domain": [0, 1], "nice": false, "zero": false}}
                  }
                },
                {
                  "mark": {"type": "rect", "color": "#53A8F5", "stroke": "#ffffff", "strokeOpacity": 0.55, "strokeWidth": 1},
                  "encoding": {
                    "x": {"datum": -310, "type": "quantitative", "axis": null},
                    "x2": {"datum": 280},
                    "y": {"datum": 0, "type": "quantitative", "axis": null},
                    "y2": {"datum": 1}
                  }
                },
                {
                  "mark": {"type": "text", "text": "exon", "fontSize": 11.5, "color": "#222", "align": "center", "baseline": "middle"},
                  "encoding": {"x": {"datum": -18, "type": "quantitative", "axis": null}, "y": {"datum": 0.6, "type": "quantitative", "axis": null}}
                },
                {
                  "mark": {"type": "text", "text": "intron", "fontSize": 11.5, "color": "#222", "align": "center", "baseline": "middle"},
                  "encoding": {"x": {"datum": -1050, "type": "quantitative", "axis": null}, "y": {"datum": -0.31, "type": "quantitative", "axis": null}}
                },
                {
                  "mark": {"type": "text", "text": "intron", "fontSize": 11.5, "color": "#222", "align": "center", "baseline": "middle"},
                  "encoding": {"x": {"datum": 1200, "type": "quantitative", "axis": null}, "y": {"datum": -0.31, "type": "quantitative", "axis": null}}
                }
              ]
            }
          ]
        }
      ]
    }
  ],
  "spacing": 17.5,
  "config": {
    "font": "Liberation Sans",
    "view": {"stroke": null},
    "axis": {"grid": false, "labelFont": "Liberation Sans", "titleFont": "Liberation Sans", "labelFontSize": 11.5, "titleFontSize": 11.5, "titleFontWeight": "normal", "labelColor": "#111", "titleColor": "#111", "domainColor": "#111", "tickColor": "#111", "domainWidth": 1.2, "tickWidth": 1.2},
    "title": {"font": "Liberation Sans", "color": "#111"},
    "legend": {"labelFont": "Liberation Sans"},
    "text": {"font": "Liberation Sans"}
  }
}
